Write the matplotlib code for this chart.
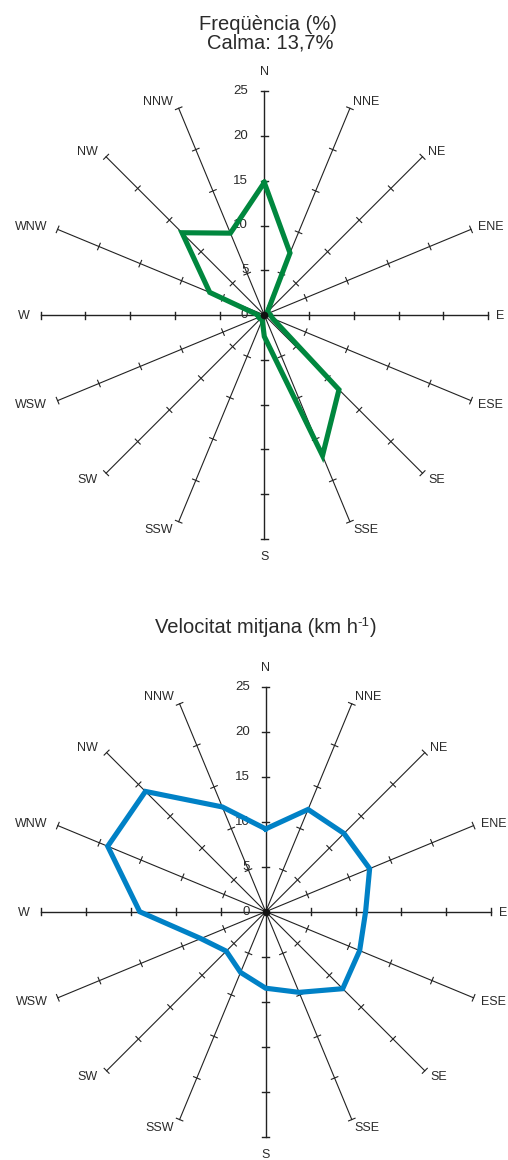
import numpy as np
import matplotlib.pyplot as plt

plt.rcParams['font.family'] = ['Liberation Sans', 'DejaVu Sans']

# data
directions = ['N', 'NNE', 'NE', 'ENE', 'E', 'ESE', 'SE', 'SSE',
              'S', 'SSW', 'SW', 'WSW', 'W', 'WNW', 'NW', 'NNW']
freq = [14.8, 7.5, 0.5, 0.5, 0.7, 1.0, 11.8, 17.0,
        2.4, 0.6, 0.6, 0.7, 0.7, 6.6, 13.0, 9.9]
speed = [9.2, 12.3, 12.3, 12.5, 11.1, 11.3, 12.1, 9.7,
         8.5, 7.3, 6.2, 7.8, 14.0, 19.0, 18.9, 12.6]
rings = [0, 5, 10, 15, 20, 25]

W, H = 508, 1160
fig = plt.figure(figsize=(W / 100, H / 100), dpi=100)
ink = '#222222'
txt = '#2a2a2a'


def rose(cx, cy, s, values, color):
    # full-figure axes, centred on pixel (cx, cy) with s px per unit
    ax = fig.add_axes([0, 0, 1, 1])
    ax.set_xlim(-cx / s, (W - cx) / s)
    ax.set_ylim(-(H - cy) / s, cy / s)
    ax.axis('off')
    ax.patch.set_alpha(0)
    rmax = rings[-1]
    th = np.deg2rad(np.arange(len(directions)) * 22.5)
    ux, uy = np.sin(th), np.cos(th)
    tk = 3.5 / s
    for i, name in enumerate(directions):
        lw = 1.0 if i % 4 == 0 else 0.8
        ax.plot([0, rmax * ux[i]], [0, rmax * uy[i]], color=ink, lw=lw, zorder=1)
        for r in rings[1:]:
            px, py = r * ux[i], r * uy[i]
            ax.plot([px - tk * uy[i], px + tk * uy[i]],
                    [py + tk * ux[i], py - tk * ux[i]], color=ink, lw=lw, zorder=1)
        # direction label
        if i == 0 or i == 8:
            ha = 'center'
            off = (0, 19 if i == 0 else -18)
        else:
            ha = 'left' if i < 8 else 'right'
            extra = 0 if i < 8 else -3
            off = (8 * ux[i] + extra, 8 * uy[i] - 1)
        ax.annotate(name, (rmax * ux[i], rmax * uy[i]),
                    xytext=(off[0] * 0.72, off[1] * 0.72), textcoords='offset points',
                    ha=ha, va='center', fontsize=9, color=txt)
    for r in rings:
        ax.annotate(str(r), (0, r), xytext=(-16 * 0.72, 0), textcoords='offset points',
                    ha='right', va='center', fontsize=9.5, color=txt, zorder=2)
    v = np.array(values)
    xs = np.append(v * ux, v[0] * ux[0])
    ys = np.append(v * uy, v[0] * uy[0])
    ax.plot(xs, ys, color=color, lw=3.7, solid_joinstyle='miter', zorder=3)
    ax.plot(0, 0, 'o', color='#111111', ms=4.5, zorder=4)
    return ax


rose(264.3, 315.0, 8.95, freq, '#00873E')
rose(265.7, 911.7, 9.0, speed, '#0081C6')

fig.text(268.3 / W, 1 - 29.5 / H, 'Freqüència (%)', ha='center', va='baseline',
         fontsize=14.5, color=txt)
fig.text(270.3 / W, 1 - 48.5 / H, 'Calma: 13,7%', ha='center', va='baseline',
         fontsize=14.5, color=txt)

# second title with a small hyphen superscript, pieced together
fig.canvas.draw()
rend = fig.canvas.get_renderer()
yb = 1 - 633.3 / H
parts = [('Velocitat mitjana (km h', 14.5, 0), ('-1', 9.5, 7.5), (')', 14.5, 0)]
objs = []
for s_, fs, dy in parts:
    t = fig.text(0, yb + dy / H, s_, ha='left', va='baseline', fontsize=fs, color=txt)
    objs.append(t)
widths = [t.get_window_extent(rend).width for t in objs]
x = 265.5 - sum(widths) / 2
for t, w in zip(objs, widths):
    t.set_x(x / W)
    x += w

fig.savefig('out.png', dpi=100)
